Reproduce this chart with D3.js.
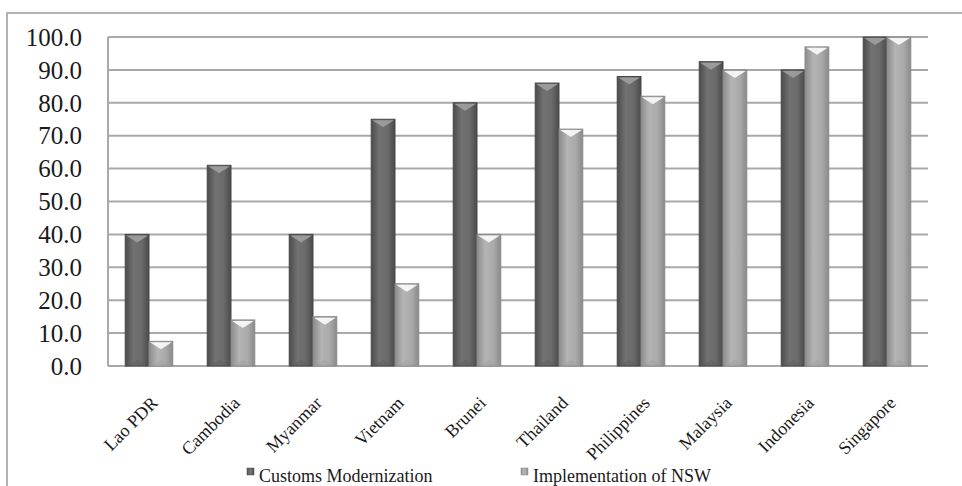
<!DOCTYPE html>
<html>
<head>
<meta charset="utf-8">
<script src="https://cdn.jsdelivr.net/npm/d3@7"></script>
<style>
  body { margin: 0; background: #fff; }
  svg text { font-family: "Liberation Serif", "Times New Roman", Times, serif; fill: #1a1a1a; }
</style>
</head>
<body>
<div id="chart-area"></div>
<script>
const W = 962, H = 486
const MARGIN = { LEFT: 108, RIGHT: 34, TOP: 37, BOTTOM: 120 }
const FONT = "'Liberation Serif', 'Times New Roman', Times, serif"

const countries = ["Lao PDR", "Cambodia", "Myanmar", "Vietnam", "Brunei", "Thailand", "Philippines", "Malaysia", "Indonesia", "Singapore"]
const customs = [40, 61, 40, 75, 80, 86, 88, 92.5, 90, 100]
const nsw = [7.5, 14, 15, 25, 40, 72, 82, 90, 97, 100]
const seriesNames = ["Customs Modernization", "Implementation of NSW"]
const yTicks = [0, 10, 20, 30, 40, 50, 60, 70, 80, 90, 100]

const data = countries.map((c, i) => ({ country: c, values: [customs[i], nsw[i]] }))

const svg = d3.select("#chart-area").append("svg")
  .attr("width", W)
  .attr("height", H)
  .style("font-family", FONT)

// gradients for the bevelled bars
const defs = svg.append("defs")
const grads = [
  { id: "g0", stops: ["#4c4c4c", "#727272", "#6a6a6a", "#4a4a4a"] },
  { id: "g1", stops: ["#8c8c8c", "#b4b4b4", "#aaaaaa", "#8a8a8a"] }
]
grads.forEach(g => {
  const lg = defs.append("linearGradient").attr("id", g.id)
    .attr("x1", "0%").attr("x2", "100%").attr("y1", "0%").attr("y2", "0%")
  ;[0, 0.35, 0.7, 1].forEach((o, i) => lg.append("stop").attr("offset", o).attr("stop-color", g.stops[i]))
})

// outer frame
svg.append("path")
  .attr("d", `M7,${H} L7,13 L${W},13`)
  .attr("fill", "none")
  .attr("stroke", "#b3b3b3")
  .attr("stroke-width", 2)

const x0 = d3.scaleBand()
  .domain(countries)
  .range([MARGIN.LEFT, W - MARGIN.RIGHT])
  .paddingInner(0.42)
  .paddingOuter(0.21)

const x1 = d3.scaleBand()
  .domain([0, 1])
  .range([0, x0.bandwidth()])

const y = d3.scaleLinear()
  .domain([0, 100])
  .range([H - MARGIN.BOTTOM, MARGIN.TOP])

const right = W - MARGIN.RIGHT

// gridlines
svg.append("g")
  .selectAll("line")
  .data(yTicks)
  .join("line")
    .attr("x1", MARGIN.LEFT)
    .attr("x2", right)
    .attr("y1", d => y(d))
    .attr("y2", d => y(d))
    .attr("stroke", "#a9a9a9")
    .attr("stroke-width", 2)

// y axis line
svg.append("line")
  .attr("x1", MARGIN.LEFT).attr("x2", MARGIN.LEFT)
  .attr("y1", y(100)).attr("y2", y(0))
  .attr("stroke", "#a9a9a9")
  .attr("stroke-width", 2)

// y labels
svg.append("g")
  .selectAll("text")
  .data(yTicks)
  .join("text")
    .attr("x", 82)
    .attr("y", d => y(d))
    .attr("dy", "0.35em")
    .attr("text-anchor", "end")
    .attr("font-family", FONT)
    .style("font-size", "25px")
    .text(d => d.toFixed(1))

// bars
const groups = svg.append("g")
  .selectAll("g")
  .data(data)
  .join("g")
    .attr("transform", d => `translate(${x0(d.country)},0)`)

const bars = groups.selectAll("g")
  .data(d => d.values.map((v, i) => ({ v, i })))
  .join("g")

bars.append("rect")
  .attr("x", d => x1(d.i))
  .attr("y", d => y(d.v))
  .attr("width", x1.bandwidth())
  .attr("height", d => y(0) - y(d.v))
  .attr("fill", d => `url(#g${d.i})`)
  .attr("stroke", d => d.i ? "#8a8a8a" : "#474747")
  .attr("stroke-width", 1)

// bevel on top of each bar
bars.append("path")
  .attr("d", d => {
    const bx = x1(d.i), bw = x1.bandwidth(), by = y(d.v)
    return `M${bx + 1},${by + 1} L${bx + bw - 1},${by + 1} L${bx + bw / 2},${by + 8} Z`
  })
  .attr("fill", d => d.i ? "#f4f4f4" : "#9a9a9a")

bars.append("path")
  .attr("d", d => {
    const bx = x1(d.i), bw = x1.bandwidth(), by = y(0)
    return `M${bx + 2},${by - 1} L${bx + bw - 2},${by - 1} L${bx + bw / 2},${by - 6} Z`
  })
  .attr("fill", d => d.i ? "#a3a3a3" : "#606060")
  .attr("opacity", 0.6)

// x labels, rotated
svg.append("g")
  .selectAll("text")
  .data(countries)
  .join("text")
    .attr("transform", d => `translate(${x0(d) + x0.bandwidth() / 2 + 10},${y(0) + 38}) rotate(-45)`)
    .attr("text-anchor", "end")
    .attr("font-family", FONT)
    .style("font-size", "18px")
    .text(d => d)

// legend
const legendX = [247, 521]
const legend = svg.append("g")
  .selectAll("g")
  .data(seriesNames)
  .join("g")
    .attr("transform", (d, i) => `translate(${legendX[i]},468)`)

legend.append("rect")
  .attr("width", 7)
  .attr("height", 7)
  .attr("fill", (d, i) => `url(#g${i})`)
  .attr("stroke", (d, i) => i ? "#8a8a8a" : "#474747")
  .attr("stroke-width", 0.5)

legend.append("text")
  .attr("x", 12)
  .attr("y", 14)
  .attr("font-family", FONT)
  .style("font-size", "18px")
  .text(d => d)
</script>
</body>
</html>
